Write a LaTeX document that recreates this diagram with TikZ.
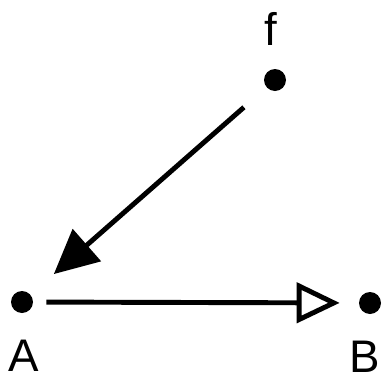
\documentclass[tikz,border=0pt]{standalone}
\usepackage{fontspec}
\setmainfont{Liberation Sans}
\usetikzlibrary{
    arrows.meta,
    positioning
}

\begin{document}
\begin{tikzpicture}[
    dot/.style={circle, fill=black, inner sep=0pt, minimum size=0.44cm},
    lbl/.style={font=\fontsize{26}{30}\selectfont, inner sep=0pt},
    arrf/.style={-{Triangle[length=0.88cm, width=0.84cm]}, line width=2.8pt,
                 shorten <=0.6cm, shorten >=0.62cm},
    arro/.style={-{Triangle[open, length=0.86cm, width=0.8cm]}, line width=2.8pt,
                 shorten <=0.26cm, shorten >=0.38cm}
  ]
    \useasboundingbox (0,0) rectangle (7.76,7.58);
    \node[dot](f) at (5.50,5.98) {};
    \node[dot](a) at (0.44,1.54) {};
    \node[dot](b) at (7.40,1.52) {};
    \node[lbl](fl) at (5.42,7.00) {f};
    \node[lbl](al) at (0.48,0.47) {A};
    \node[lbl](bl) at (7.30,0.45) {B};
    \draw[arrf](f)--(a);
    \draw[arro](a)--(b);
  \end{tikzpicture}
\end{document}
